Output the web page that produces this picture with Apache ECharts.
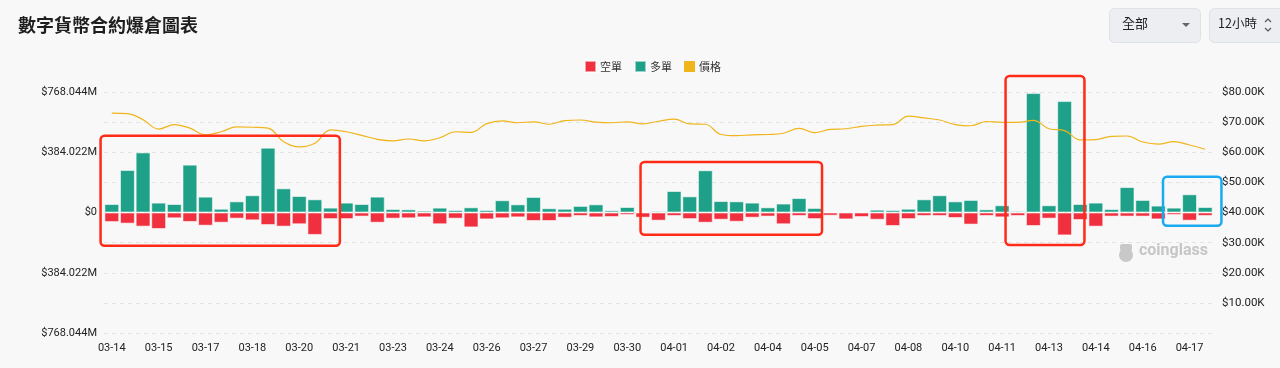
<!DOCTYPE html>
<html>
<head>
<meta charset="utf-8">
<script src="https://cdn.jsdelivr.net/npm/echarts@6/dist/echarts.min.js"></script>
<style>
html,body{margin:0;padding:0;background:#f8f8f8;}
#c{width:1280px;height:368px;}
</style>
</head>
<body>
<div id="c"></div>
<script>
// ---- data ----
const categories = (function(){
  const out = [];
  const start = Date.UTC(2024, 2, 14, 0, 0);
  for (let i = 0; i < 71; i++) {
    const d = new Date(start + i * 12 * 3600 * 1000);
    const mm = String(d.getUTCMonth() + 1).padStart(2, '0');
    const dd = String(d.getUTCDate()).padStart(2, '0');
    const hh = String(d.getUTCHours()).padStart(2, '0');
    out.push(mm + '-' + dd + ' ' + hh + ':00');
  }
  return out;
})();

// long liquidations (USD millions, positive)
const longM = [
  54, 271, 383, 63, 54, 305, 101, 24, 71, 110,
  413, 154, 105, 84, 31, 63, 54, 101, 22, 20,
  12, 31, 16, 33, 16, 78, 52, 99, 27, 24,
  42, 52, 14, 35, 4, 10, 137, 103, 269, 73,
  71, 63, 33, 57, 92, 29, 3, 5, 5, 18,
  16, 24, 84, 110, 71, 80, 20, 46, 10, 761,
  46, 710, 54, 63, 22, 162, 80, 44, 31, 116,
  35
];
// short liquidations (USD millions, positive, drawn downward)
const shortM = [
  61, 71, 90, 105, 37, 60, 84, 65, 39, 50,
  80, 90, 75, 143, 42, 42, 26, 65, 39, 37,
  31, 75, 39, 95, 44, 37, 31, 54, 54, 33,
  22, 31, 29, 16, 33, 52, 22, 42, 65, 46,
  59, 33, 26, 75, 22, 42, 20, 44, 29, 46,
  86, 42, 22, 22, 35, 77, 22, 31, 22, 86,
  39, 146, 48, 90, 26, 26, 26, 44, 16, 52,
  22
];
// price (USD thousands)
const priceK = [
  73.0, 72.8, 70.8, 67.7, 69.2, 68.0, 65.8, 66.8, 68.4, 68.3,
  68.0, 63.5, 61.8, 63.0, 67.4, 66.8, 65.6, 64.3, 63.8, 64.4,
  63.8, 64.8, 66.8, 66.6, 69.5, 70.4, 69.8, 70.1, 69.3, 70.5,
  70.7, 70.0, 69.8, 70.1, 69.4, 70.3, 71.0, 69.4, 69.3, 65.9,
  65.5, 65.8, 65.9, 66.3, 67.9, 66.5, 67.6, 67.8, 68.6, 69.0,
  69.2, 72.0, 71.4, 70.7, 69.2, 68.8, 70.2, 69.9, 69.9, 70.6,
  67.8, 67.2, 64.1, 64.2, 65.3, 65.4, 63.4, 62.7, 63.5, 62.4,
  61.0
];

const leftMax = 768.044e6;
const leftInterval = 192.011e6;

// annotation boxes in data units
const boxFrom = [-0.72, 33.85, 57.22, 67.30];
const boxTo = [14.60, 45.47, 62.27, 71.04];
const boxTop = [489.5e6, 321.9e6, 870e6, 228e6];
const boxBottom = [-211.6e6, -141.5e6, -207e6, -84e6];
const boxColor = ['#ff2a17', '#ff2a17', '#ff2a17', '#1ba9f0'];

const FONT = 'Roboto, "Noto Sans CJK TC", sans-serif';
const CJK = '"Noto Sans CJK TC", "Noto Sans", sans-serif';

const chart = echarts.init(document.getElementById('c'), null, {renderer: 'canvas'});

function fmtLeft(v) {
  if (Math.abs(v) < 1) return '$0';
  const k = Math.round(Math.abs(v) / leftInterval);
  if (k % 2 !== 0) return '';
  return '$' + (Math.abs(v) / 1e6).toFixed(3) + 'M';
}

const option = {
  backgroundColor: '#f8f8f8',
  animation: false,
  title: {
    text: '數字貨幣合約爆倉圖表',
    left: 18, top: 16, padding: 0,
    textStyle: {fontFamily: CJK, fontSize: 18, fontWeight: 'bold', color: '#1e1e1e'}
  },
  legend: {
    top: 60, left: 584, padding: 0,
    itemWidth: 11, itemHeight: 11, itemGap: 12,
    icon: 'rect',
    textStyle: {fontFamily: CJK, fontSize: 11, color: '#333', padding: [0, 0, 0, -1]},
    data: ['空單', '多單', '價格']
  },
  grid: {left: 104, right: 67, top: 92, bottom: 35, containLabel: false},
  xAxis: {
    type: 'category',
    data: categories,
    boundaryGap: true,
    axisLine: {show: false},
    axisTick: {show: false},
    axisLabel: {
      interval: 2,
      margin: 10,
      fontFamily: FONT, fontSize: 11, color: '#222',
      formatter: v => v.slice(0, 5)
    },
    splitLine: {show: false}
  },
  yAxis: [
    {
      type: 'value',
      min: -leftMax, max: leftMax, interval: leftInterval,
      axisLine: {show: false},
      axisTick: {show: false},
      axisLabel: {margin: 7, fontFamily: FONT, fontSize: 11, color: '#222', formatter: fmtLeft},
      splitLine: {show: true, lineStyle: {type: [4, 4], color: '#e3e3e3', width: 1}}
    },
    {
      type: 'value',
      min: 0, max: 80000, interval: 10000,
      position: 'right',
      axisLine: {show: false},
      axisTick: {show: false},
      axisLabel: {margin: 9, fontFamily: FONT, fontSize: 11.5, color: '#222',
        formatter: v => v === 0 ? '' : '$' + (v / 1000).toFixed(2) + 'K'},
      splitLine: {show: false}
    }
  ],
  series: [
    {
      name: '空單', type: 'bar', stack: 'liq', yAxisIndex: 0,
      data: shortM.map(v => -v * 1e6),
      barCategoryGap: '5%',
      itemStyle: {color: '#f0303f', borderColor: 'rgba(255,255,255,0.55)', borderWidth: 1}
    },
    {
      name: '多單', type: 'bar', stack: 'liq', yAxisIndex: 0,
      data: longM.map(v => v * 1e6),
      barCategoryGap: '5%',
      itemStyle: {color: '#1fa088', borderColor: 'rgba(255,255,255,0.55)', borderWidth: 1}
    },
    {
      name: '價格', type: 'line', yAxisIndex: 1,
      data: priceK.map(v => v * 1000),
      smooth: 0.4, symbol: 'none',
      lineStyle: {color: '#f1b51c', width: 1.2},
      itemStyle: {color: '#f1b51c'},
      z: 5
    }
  ]
};
chart.setOption(option);

function buildGraphics() {
  const els = [];
  // dropdown 1
  els.push({type: 'rect', left: 1109, top: 8, shape: {width: 91, height: 34, r: 5},
    style: {fill: '#eceef2', stroke: '#dfe2e7', lineWidth: 1}, z: 10});
  els.push({type: 'text', left: 1122, top: 17, style: {text: '全部', font: '13px ' + CJK, fill: '#222'}, z: 11});
  els.push({type: 'polygon', shape: {points: [[1182, 23], [1190, 23], [1186, 27]]}, style: {fill: '#666'}, z: 11});
  // dropdown 2
  els.push({type: 'rect', left: 1209, top: 8, shape: {width: 80, height: 34, r: 5},
    style: {fill: '#eceef2', stroke: '#dfe2e7', lineWidth: 1}, z: 10});
  els.push({type: 'text', left: 1218, top: 17, style: {text: '12小時', font: '12.5px ' + CJK, fill: '#222'}, z: 11});
  els.push({type: 'polyline', shape: {points: [[1265, 22], [1268, 19], [1271, 22]]}, style: {stroke: '#555', lineWidth: 1.2, fill: null}, z: 11});
  els.push({type: 'polyline', shape: {points: [[1265, 28], [1268, 31], [1271, 28]]}, style: {stroke: '#555', lineWidth: 1.2, fill: null}, z: 11});
  // watermark
  els.push({type: 'circle', shape: {cx: 1126, cy: 255, r: 7}, style: {fill: '#c8c8c8'}, z: 1});
  els.push({type: 'rect', shape: {x: 1120, y: 244, width: 12, height: 7, r: 2}, style: {fill: '#c8c8c8'}, z: 1});
  els.push({type: 'text', left: 1139, top: 243, style: {text: 'coinglass', font: 'bold 16px ' + FONT, fill: '#c6c6c6'}, z: 1});
  // annotation boxes
  const firstC = chart.convertToPixel({xAxisIndex: 0}, 0);
  const secondC = chart.convertToPixel({xAxisIndex: 0}, 1);
  const pitch = secondC - firstC;
  for (let i = 0; i < boxFrom.length; i++) {
    const x1 = firstC + boxFrom[i] * pitch;
    const x2 = firstC + boxTo[i] * pitch;
    const y1 = chart.convertToPixel({yAxisIndex: 0}, boxTop[i]);
    const y2 = chart.convertToPixel({yAxisIndex: 0}, boxBottom[i]);
    els.push({type: 'rect', shape: {x: x1, y: y1, width: x2 - x1, height: y2 - y1, r: 4},
      style: {fill: null, stroke: boxColor[i], lineWidth: 2.5}, z: 20});
  }
  return els;
}
chart.setOption({graphic: {elements: buildGraphics()}});
</script>
</body>
</html>
